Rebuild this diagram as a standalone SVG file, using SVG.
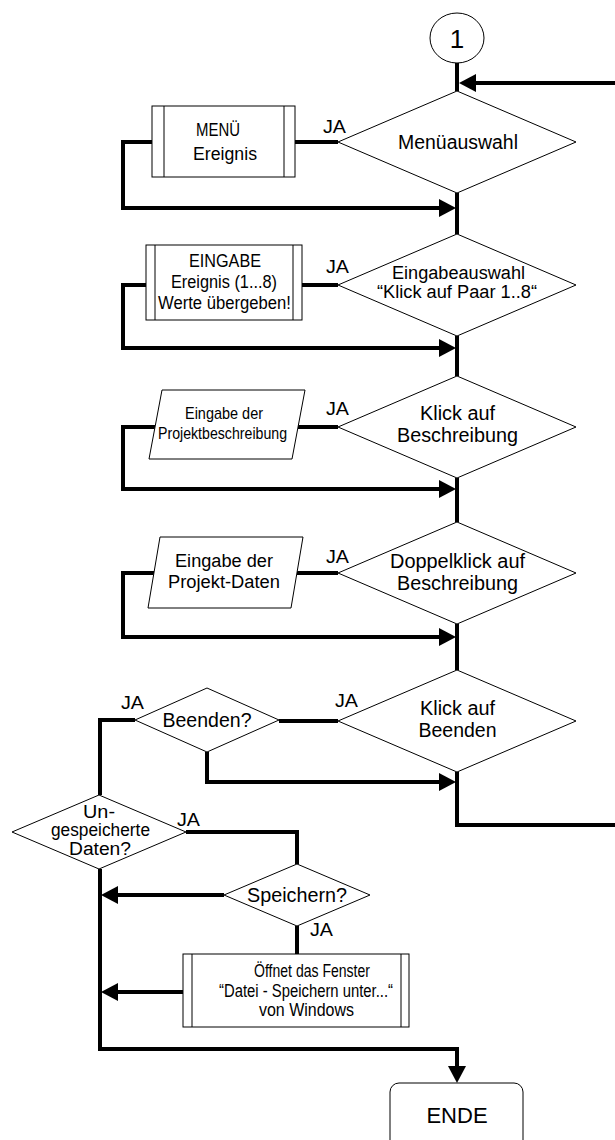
<svg xmlns="http://www.w3.org/2000/svg" width="615" height="1140" viewBox="0 0 615 1140">
  <style>
    .shape { fill: #ffffff; stroke: #000000; stroke-width: 1; }
    .bar { stroke: #000000; stroke-width: 1; }
    .flow { fill: none; stroke: #000000; stroke-width: 4; stroke-linejoin: miter; stroke-linecap: butt; }
    text { font-family: "Liberation Sans", Arial, sans-serif; fill: #000000; }
    .c { text-anchor: middle; }
    .big { font-size: 19.5px; }
    .mid { font-size: 18px; }
    .sm { font-size: 17.5px; }
    .ja { font-size: 18px; }
  </style>
  <defs>
    <marker id="arrow" markerUnits="userSpaceOnUse" markerWidth="17" markerHeight="18" refX="0" refY="9" orient="auto">
      <path d="M0,0 L17,9 L0,18 Z" fill="#000000"/>
    </marker>
  </defs>

  <!-- connectors -->
  <g id="connectors">
    <path class="flow" d="M457,63 V91"/>
    <path class="flow" d="M615,83 H476" marker-end="url(#arrow)"/>
    <path class="flow" d="M457,193 V234"/>
    <path class="flow" d="M457,336 V376"/>
    <path class="flow" d="M457,478 V522"/>
    <path class="flow" d="M457,624 V670"/>
    <path class="flow" d="M457,772 V825 H615"/>

    <path class="flow" d="M338,142 H295"/>
    <path class="flow" d="M152,142 H123 V208 H439" marker-end="url(#arrow)"/>

    <path class="flow" d="M338,285 H302"/>
    <path class="flow" d="M146,285 H123 V348 H439" marker-end="url(#arrow)"/>

    <path class="flow" d="M338,427 H298"/>
    <path class="flow" d="M155,427 H123 V489 H439" marker-end="url(#arrow)"/>

    <path class="flow" d="M338,573 H297"/>
    <path class="flow" d="M154,573 H123 V637 H439" marker-end="url(#arrow)"/>

    <path class="flow" d="M338,721 H279"/>
    <path class="flow" d="M135,720 H100 V795"/>
    <path class="flow" d="M207,752 V782 H439" marker-end="url(#arrow)"/>

    <path class="flow" d="M186,832 H297 V864"/>
    <path class="flow" d="M224,895 H118" marker-end="url(#arrow)"/>
    <path class="flow" d="M297,926 V954"/>
    <path class="flow" d="M183,992 H118" marker-end="url(#arrow)"/>
    <path class="flow" d="M100,869 V1049 H457 V1066" marker-end="url(#arrow)"/>
  </g>

  <!-- connector labels -->
  <g id="labels">
    <text class="ja" x="323" y="133" textLength="23" lengthAdjust="spacingAndGlyphs">JA</text>
    <text class="ja" x="326" y="273" textLength="23" lengthAdjust="spacingAndGlyphs">JA</text>
    <text class="ja" x="326" y="415" textLength="23" lengthAdjust="spacingAndGlyphs">JA</text>
    <text class="ja" x="326" y="563" textLength="23" lengthAdjust="spacingAndGlyphs">JA</text>
    <text class="ja" x="335" y="707" textLength="23" lengthAdjust="spacingAndGlyphs">JA</text>
    <text class="ja" x="121" y="709" textLength="23" lengthAdjust="spacingAndGlyphs">JA</text>
    <text class="ja" x="177" y="826" textLength="23" lengthAdjust="spacingAndGlyphs">JA</text>
    <text class="ja" x="310" y="936" textLength="23" lengthAdjust="spacingAndGlyphs">JA</text>
  </g>

  <g id="start">
    <ellipse class="shape" cx="457" cy="38" rx="27" ry="25"/>
    <text class="c" x="457" y="48" font-size="26">1</text>
  </g>

  <g id="menuauswahl">
    <polygon class="shape" points="457,91 576,142 457,193 338,142"/>
    <text class="c big" x="458" y="149" textLength="120" lengthAdjust="spacingAndGlyphs">Menüauswahl</text>
  </g>

  <g id="menu-ereignis">
    <rect class="shape" x="152" y="106" width="143" height="71"/>
    <line class="bar" x1="164" y1="106" x2="164" y2="177"/>
    <line class="bar" x1="284" y1="106" x2="284" y2="177"/>
    <text class="c sm" x="218" y="136" textLength="44" lengthAdjust="spacingAndGlyphs">MENÜ</text>
    <text class="c sm" x="225" y="160" textLength="64" lengthAdjust="spacingAndGlyphs">Ereignis</text>
  </g>

  <g id="eingabeauswahl">
    <polygon class="shape" points="457,234 576,285 457,336 338,285"/>
    <text class="c mid" x="458.5" y="279" textLength="133" lengthAdjust="spacingAndGlyphs">Eingabeauswahl</text>
    <text class="c mid" x="457" y="298" textLength="160" lengthAdjust="spacingAndGlyphs">“Klick auf Paar 1..8“</text>
  </g>

  <g id="eingabe-ereignis">
    <rect class="shape" x="146" y="245" width="156" height="75"/>
    <line class="bar" x1="155" y1="245" x2="155" y2="320"/>
    <line class="bar" x1="293" y1="245" x2="293" y2="320"/>
    <text class="c sm" x="225" y="267" textLength="72" lengthAdjust="spacingAndGlyphs">EINGABE</text>
    <text class="c sm" x="224" y="288" textLength="106" lengthAdjust="spacingAndGlyphs">Ereignis (1...8)</text>
    <text class="c sm" x="224.5" y="309" textLength="133" lengthAdjust="spacingAndGlyphs">Werte übergeben!</text>
  </g>

  <g id="klick-beschreibung">
    <polygon class="shape" points="457,376 576,427 457,478 338,427"/>
    <text class="c big" x="457.5" y="420" textLength="75" lengthAdjust="spacingAndGlyphs">Klick auf</text>
    <text class="c big" x="457.5" y="442" textLength="121" lengthAdjust="spacingAndGlyphs">Beschreibung</text>
  </g>

  <g id="eingabe-projektbeschreibung">
    <polygon class="shape" points="162,390 305,390 292,459 149,459"/>
    <text class="c" font-size="17" x="224" y="419" textLength="78" lengthAdjust="spacingAndGlyphs">Eingabe der</text>
    <text class="c" font-size="17" x="222.5" y="439" textLength="129" lengthAdjust="spacingAndGlyphs">Projektbeschreibung</text>
  </g>

  <g id="doppelklick-beschreibung">
    <polygon class="shape" points="457,522 576,573 457,624 338,573"/>
    <text class="c big" x="457.5" y="568" textLength="135" lengthAdjust="spacingAndGlyphs">Doppelklick auf</text>
    <text class="c big" x="457.5" y="590" textLength="121" lengthAdjust="spacingAndGlyphs">Beschreibung</text>
  </g>

  <g id="eingabe-projektdaten">
    <polygon class="shape" points="160,537 303,537 291,608 148,608"/>
    <text class="c mid" x="224" y="567" textLength="98" lengthAdjust="spacingAndGlyphs">Eingabe der</text>
    <text class="c mid" x="224" y="588" textLength="112" lengthAdjust="spacingAndGlyphs">Projekt-Daten</text>
  </g>

  <g id="klick-beenden">
    <polygon class="shape" points="457,670 576,721 457,772 338,721"/>
    <text class="c big" x="457.5" y="715" textLength="75" lengthAdjust="spacingAndGlyphs">Klick auf</text>
    <text class="c big" x="457.5" y="737" textLength="78" lengthAdjust="spacingAndGlyphs">Beenden</text>
  </g>

  <g id="beenden">
    <polygon class="shape" points="207,688 279,720 207,752 135,720"/>
    <text class="c big" x="207" y="727" textLength="89" lengthAdjust="spacingAndGlyphs">Beenden?</text>
  </g>

  <g id="ungespeicherte-daten">
    <polygon class="shape" points="99,795 186,832 99,869 12,832"/>
    <text class="c mid" x="99" y="818" textLength="32" lengthAdjust="spacingAndGlyphs">Un-</text>
    <text class="c mid" x="100.5" y="836" textLength="99" lengthAdjust="spacingAndGlyphs">gespeicherte</text>
    <text class="c mid" x="100" y="855" textLength="62" lengthAdjust="spacingAndGlyphs">Daten?</text>
  </g>

  <g id="speichern">
    <polygon class="shape" points="297,864 370,895 297,926 224,895"/>
    <text class="c big" x="297" y="902" textLength="100" lengthAdjust="spacingAndGlyphs">Speichern?</text>
  </g>

  <g id="speichern-unter">
    <rect class="shape" x="183" y="954" width="226" height="73"/>
    <line class="bar" x1="192" y1="954" x2="192" y2="1027"/>
    <line class="bar" x1="401" y1="954" x2="401" y2="1027"/>
    <text class="c sm" x="312" y="977" textLength="116" lengthAdjust="spacingAndGlyphs">Öffnet das Fenster</text>
    <text class="c sm" x="306" y="997" textLength="174" lengthAdjust="spacingAndGlyphs">“Datei - Speichern unter...“</text>
    <text class="c sm" x="306.5" y="1016" textLength="95" lengthAdjust="spacingAndGlyphs">von Windows</text>
  </g>

  <g id="ende">
    <rect class="shape" x="390" y="1083" width="133" height="75" rx="9" ry="9"/>
    <text class="c" font-size="22" x="457" y="1123">ENDE</text>
  </g>
</svg>
